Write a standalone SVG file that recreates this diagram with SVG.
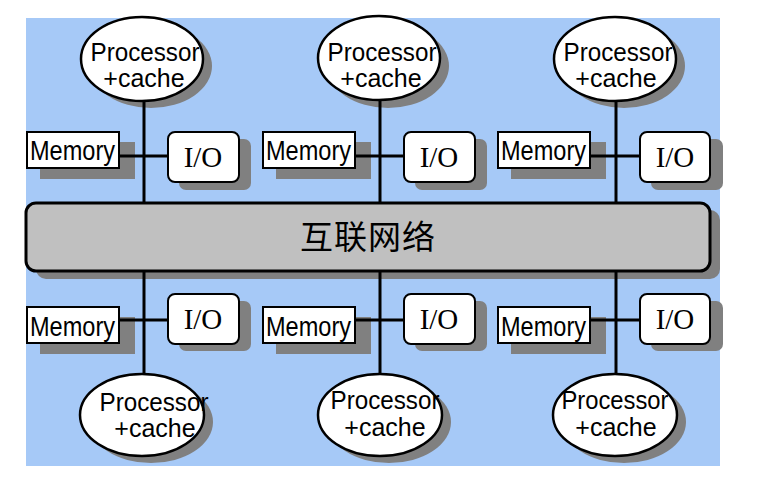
<svg xmlns="http://www.w3.org/2000/svg" width="768" height="498" viewBox="0 0 768 498">
<style>
.sh{fill:#808080;stroke:none}
.box{fill:#fff;stroke:#000;stroke-width:2}
.ell{fill:#fff;stroke:#000;stroke-width:2.5}
.bus{fill:#c0c0c0;stroke:#000;stroke-width:3}
.ln{stroke:#000;stroke-width:3;fill:none}
.p{font-family:"Liberation Sans",Arial,sans-serif;font-size:25px;text-anchor:middle;fill:#000}
.m{font-family:"Liberation Sans",Arial,sans-serif;font-size:27px;fill:#000}
.io{font-family:"Liberation Serif","Times New Roman",serif;font-size:29px;text-anchor:middle;fill:#000}
.cn{font-family:"Noto Sans CJK SC",sans-serif;font-size:33px;text-anchor:middle;fill:#000;letter-spacing:1px}
</style>
<rect x="26" y="18" width="694" height="448" fill="#a6c9f7"/>
<g id="shadows">
  <rect class="sh" x="36" y="210" width="684" height="69" rx="10"/>
  <ellipse class="sh" cx="151" cy="66" rx="61" ry="42"/>
  <ellipse class="sh" cx="388" cy="66" rx="61" ry="42"/>
  <ellipse class="sh" cx="624" cy="66" rx="61" ry="42"/>
  <ellipse class="sh" cx="151" cy="422" rx="62" ry="41"/>
  <ellipse class="sh" cx="389" cy="422" rx="62" ry="41"/>
  <ellipse class="sh" cx="624" cy="422" rx="62" ry="41"/>
  <rect class="sh" x="40" y="142" width="95" height="37"/>
  <rect class="sh" x="276" y="142" width="95" height="37"/>
  <rect class="sh" x="511" y="142" width="95" height="37"/>
  <rect class="sh" x="40" y="317" width="95" height="37"/>
  <rect class="sh" x="276" y="317" width="95" height="37"/>
  <rect class="sh" x="511" y="317" width="95" height="37"/>
  <rect class="sh" x="179" y="139" width="72" height="51" rx="7"/>
  <rect class="sh" x="415" y="139" width="72" height="51" rx="7"/>
  <rect class="sh" x="651" y="139" width="72" height="51" rx="7"/>
  <rect class="sh" x="179" y="301" width="72" height="50" rx="7"/>
  <rect class="sh" x="415" y="301" width="72" height="50" rx="7"/>
  <rect class="sh" x="651" y="301" width="72" height="50" rx="7"/>
</g>
<g id="connectors">
  <line class="ln" x1="144" y1="100" x2="144" y2="203"/>
  <line class="ln" x1="380" y1="100" x2="380" y2="203"/>
  <line class="ln" x1="616" y1="100" x2="616" y2="203"/>
  <line class="ln" x1="144" y1="270" x2="144" y2="374"/>
  <line class="ln" x1="380" y1="270" x2="380" y2="374"/>
  <line class="ln" x1="616" y1="270" x2="616" y2="374"/>
  <line class="ln" x1="119" y1="156" x2="168" y2="156"/>
  <line class="ln" x1="355" y1="156" x2="404" y2="156"/>
  <line class="ln" x1="590" y1="156" x2="640" y2="156"/>
  <line class="ln" x1="119" y1="320" x2="168" y2="320"/>
  <line class="ln" x1="355" y1="320" x2="404" y2="320"/>
  <line class="ln" x1="590" y1="320" x2="640" y2="320"/>
</g>
<g id="bus">
  <rect class="bus" x="26" y="203" width="684" height="68" rx="10"/>
  <text class="cn" x="368" y="249">互联网络</text>
</g>
<g id="proc-top-1">
  <ellipse class="ell" cx="142" cy="59" rx="61" ry="42"/>
  <text class="p" x="145" y="61" textLength="109" lengthAdjust="spacingAndGlyphs">Processor</text>
  <text class="p" x="144" y="87">+cache</text>
</g>
<g id="proc-top-2">
  <ellipse class="ell" cx="379" cy="58" rx="61" ry="42"/>
  <text class="p" x="382" y="61" textLength="109" lengthAdjust="spacingAndGlyphs">Processor</text>
  <text class="p" x="381" y="87">+cache</text>
</g>
<g id="proc-top-3">
  <ellipse class="ell" cx="615" cy="59" rx="61" ry="42"/>
  <text class="p" x="618" y="61" textLength="109" lengthAdjust="spacingAndGlyphs">Processor</text>
  <text class="p" x="616" y="87">+cache</text>
</g>
<g id="proc-bot-1">
  <ellipse class="ell" cx="142" cy="415" rx="62" ry="41"/>
  <text class="p" x="154" y="411" textLength="109" lengthAdjust="spacingAndGlyphs">Processor</text>
  <text class="p" x="155" y="437">+cache</text>
</g>
<g id="proc-bot-2">
  <ellipse class="ell" cx="380" cy="415" rx="62" ry="41"/>
  <text class="p" x="385" y="409" textLength="109" lengthAdjust="spacingAndGlyphs">Processor</text>
  <text class="p" x="385" y="436">+cache</text>
</g>
<g id="proc-bot-3">
  <ellipse class="ell" cx="615" cy="415" rx="62" ry="41"/>
  <text class="p" x="615" y="409" textLength="107" lengthAdjust="spacingAndGlyphs">Processor</text>
  <text class="p" x="616" y="436">+cache</text>
</g>
<g id="mem-top-1">
  <rect class="box" x="27" y="132" width="92" height="36"/>
  <text class="m" x="30" y="160" textLength="85" lengthAdjust="spacingAndGlyphs">Memory</text>
</g>
<g id="mem-top-2">
  <rect class="box" x="263" y="132" width="92" height="36"/>
  <text class="m" x="266" y="160" textLength="85" lengthAdjust="spacingAndGlyphs">Memory</text>
</g>
<g id="mem-top-3">
  <rect class="box" x="498" y="132" width="92" height="36"/>
  <text class="m" x="501" y="160" textLength="85" lengthAdjust="spacingAndGlyphs">Memory</text>
</g>
<g id="mem-bot-1">
  <rect class="box" x="27" y="307" width="92" height="36"/>
  <text class="m" x="30" y="336" textLength="85" lengthAdjust="spacingAndGlyphs">Memory</text>
</g>
<g id="mem-bot-2">
  <rect class="box" x="263" y="307" width="92" height="36"/>
  <text class="m" x="266" y="336" textLength="85" lengthAdjust="spacingAndGlyphs">Memory</text>
</g>
<g id="mem-bot-3">
  <rect class="box" x="498" y="307" width="92" height="36"/>
  <text class="m" x="501" y="336" textLength="85" lengthAdjust="spacingAndGlyphs">Memory</text>
</g>
<g id="io-top-1">
  <rect class="box" x="168" y="132" width="71" height="50" rx="7"/>
  <text class="io" x="203" y="167">I/O</text>
</g>
<g id="io-top-2">
  <rect class="box" x="404" y="132" width="71" height="50" rx="7"/>
  <text class="io" x="439" y="167">I/O</text>
</g>
<g id="io-top-3">
  <rect class="box" x="640" y="132" width="70" height="50" rx="7"/>
  <text class="io" x="675" y="167">I/O</text>
</g>
<g id="io-bot-1">
  <rect class="box" x="168" y="294" width="71" height="50" rx="7"/>
  <text class="io" x="203" y="329">I/O</text>
</g>
<g id="io-bot-2">
  <rect class="box" x="404" y="294" width="71" height="50" rx="7"/>
  <text class="io" x="439" y="329">I/O</text>
</g>
<g id="io-bot-3">
  <rect class="box" x="640" y="294" width="70" height="50" rx="7"/>
  <text class="io" x="675" y="329">I/O</text>
</g>
</svg>
